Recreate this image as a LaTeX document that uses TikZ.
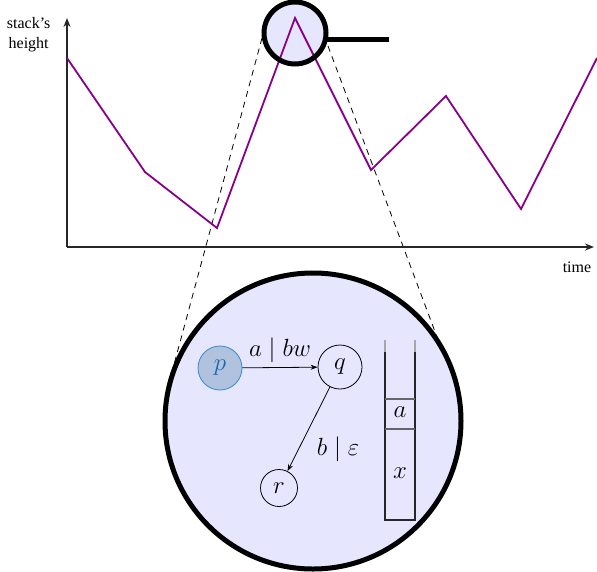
\documentclass[tikz,border=0pt]{standalone}
\usepackage{fontspec}
\setmainfont{Liberation Serif}
\usetikzlibrary{arrows.meta}
\definecolor{lens}{RGB}{230,230,255}
\definecolor{pfill}{RGB}{176,194,222}
\definecolor{pdraw}{RGB}{50,140,205}
\definecolor{ptext}{RGB}{25,105,175}
\definecolor{curve}{RGB}{135,0,140}
\tikzset{
  axis/.style={line width=2pt, black!85, -{Stealth[length=9pt,width=7pt]}},
  lensline/.style={line width=5pt, black},
  zoomline/.style={dashed, line width=0.8pt, dash pattern=on 6pt off 5pt},
  state/.style={circle, draw, line width=0.8pt, minimum size=44pt, inner sep=0pt, font=\fontsize{23}{26}\selectfont},
  trans/.style={line width=0.8pt, -{Stealth[length=7pt,width=5pt]}},
  lbl/.style={font=\fontsize{23}{26}\selectfont},
  stackline/.style={line width=1.6pt, black!85},
  txt/.style={font=\fontsize{16}{20}\selectfont, align=center}
}
\begin{document}
\begin{tikzpicture}[x=1pt,y=-1pt]
\useasboundingbox (0,0) rectangle (597,571);
% dashed zoom lines
\coordinate (dl1) at (262,38);
\coordinate (dl2) at (172,372);
\coordinate (dr1) at (328,46);
\coordinate (dr2) at (440,345);
\draw[zoomline] (dl1) -- (dl2);
\draw[zoomline] (dr1) -- (dr2);
% small lens fill
\coordinate (sc) at (295,33);
\fill[lens] (sc) circle (31);
% axes
\coordinate (o) at (67,247);
\coordinate (ytop) at (67,18);
\coordinate (xend) at (594,247);
\draw[axis] (o) -- (ytop);
\draw[axis] (o) -- (xend);
\node[txt, anchor=east] (yl) at (54,35) {stack’s\\height};
\node[txt] (xl) at (577,267) {time};
% curve
\draw[curve, line width=1.8pt, line join=miter]
  (67,58) -- (145,172) -- (217,228) -- (295,18) -- (371,170) -- (446,96) -- (521,209) -- (597,58);
% small lens outline and handle
\coordinate (h1) at (326,39);
\coordinate (h2) at (389,39);
\draw[lensline] (h1) -- (h2);
\draw[lensline] (sc) circle (31);
% big lens
\coordinate (bc) at (313,421);
\filldraw[fill=lens, draw=black, line width=5pt] (bc) circle (148);
% automaton
\node[state, fill=pfill, draw=pdraw, text=ptext] (p) at (220,368) {$p$};
\node[state] (q) at (340,367) {$q$};
\node[state, minimum size=37pt] (r) at (279,488) {$r$};
\draw[trans] (p) -- (q);
\node[lbl] (l1) at (280,350) {$a \mid bw$};
\draw[trans] (q) -- (r);
\node[lbl] (l2) at (338,449) {$b \mid \varepsilon$};
% stack
\coordinate (s1) at (385,352);
\coordinate (s2) at (385,520);
\coordinate (s3) at (415,520);
\coordinate (s4) at (415,352);
\coordinate (t1) at (385,340);
\coordinate (t2) at (415,340);
\draw[line width=1.6pt, black!35] (t1) -- (s1);
\draw[line width=1.6pt, black!35] (t2) -- (s4);
\draw[stackline, line join=miter] (s1) -- (s2) -- (s3) -- (s4);
\draw[line width=1.6pt, black!60] (385,399) -- (415,399);
\draw[line width=1.6pt, black!60] (385,429) -- (415,429);
\node[lbl] (sa) at (400,412) {$a$};
\node[lbl] (sx) at (400,473) {$x$};
\end{tikzpicture}
\end{document}
